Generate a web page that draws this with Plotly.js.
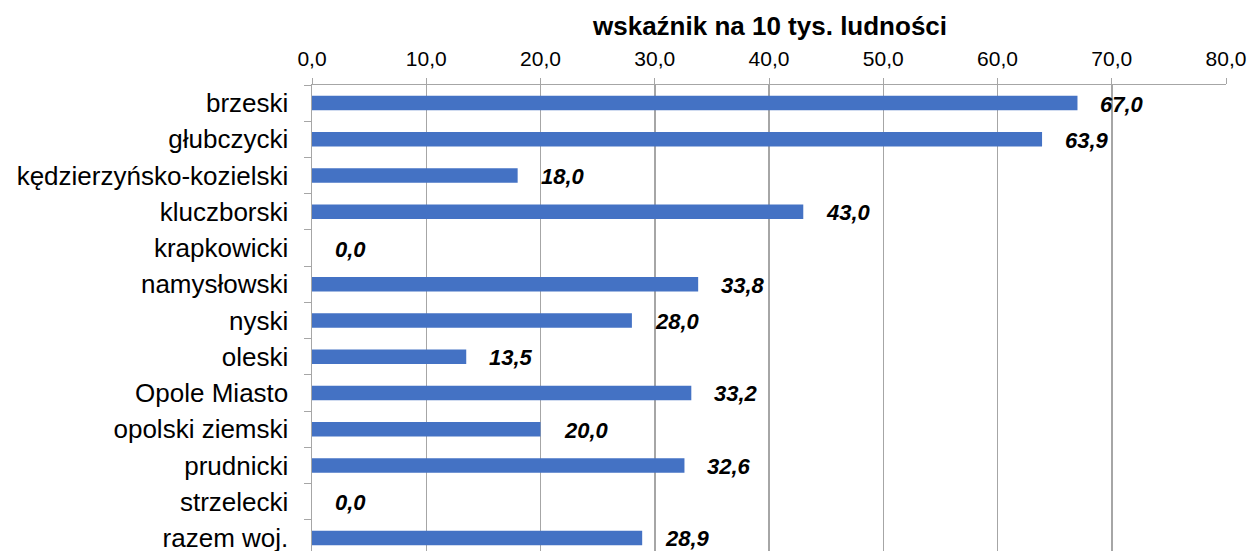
<!DOCTYPE html>
<html>
<head>
<meta charset="utf-8">
<script src="https://cdn.plot.ly/plotly-3.0.1.min.js"></script>
<style>
  html, body { margin: 0; padding: 0; overflow: hidden; background: #fff; }
</style>
</head>
<body>
<div id="chart" style="width:1255px;height:556px;"></div>
<script>
const powiaty = [
  "brzeski", "głubczycki", "kędzierzyńsko-kozielski", "kluczborski",
  "krapkowicki", "namysłowski", "nyski", "oleski", "Opole Miasto",
  "opolski ziemski", "prudnicki", "strzelecki", "razem woj."
];
const wskaznik = [67.0, 63.9, 18.0, 43.0, 0.0, 33.8, 28.0, 13.5, 33.2, 20.0, 32.6, 0.0, 28.9];
const tytul = "wskaźnik na 10 tys. ludności";

const fmt = (v) => v.toFixed(1).replace(".", ",");

const gray = "#A6A6A6";
const font = "Liberation Sans, Arial, sans-serif";

const trace = {
  type: "bar",
  orientation: "h",
  x: wskaznik,
  y: powiaty,
  marker: { color: "#4472C4" },
  hoverinfo: "skip",
};

// etykiety wartości przy słupkach
const labels = wskaznik.map((v, i) => ({
  x: v,
  y: powiaty[i],
  xref: "x",
  yref: "y",
  text: "<b><i>" + fmt(v) + "</i></b>",
  showarrow: false,
  xanchor: "left",
  yanchor: "middle",
  xshift: 21,
  yshift: -1,
  font: { family: font, size: 22, color: "#000" },
}));

labels.push({
  text: "<b>" + tytul + "</b>",
  xref: "paper",
  yref: "paper",
  x: 0.5,
  y: 1 + 59 / 471,
  xanchor: "center",
  yanchor: "middle",
  showarrow: false,
  font: { family: font, size: 26, color: "#000" },
});

Plotly.newPlot("chart", [trace], {
  width: 1255,
  height: 556,
  margin: { l: 312, r: 29, t: 85, b: 0 },
  bargap: 0.6,
  separators: ", ",
  showlegend: false,
  paper_bgcolor: "#fff",
  plot_bgcolor: "#fff",
  font: { family: font, color: "#000" },
  xaxis: {
    side: "top",
    range: [0, 80],
    dtick: 10,
    tick0: 0,
    tickformat: ".1f",
    ticks: "outside",
    ticklen: 6,
    tickcolor: gray,
    showline: true,
    linecolor: gray,
    linewidth: 1.5,
    showgrid: true,
    gridcolor: gray,
    gridwidth: 1.5,
    zeroline: false,
    tickfont: { family: font, size: 21, color: "#000" },
    ticklabelstandoff: 3,
  },
  yaxis: {
    autorange: "reversed",
    ticks: "outside",
    tickson: "boundaries",
    ticklen: 7,
    tickcolor: gray,
    showline: true,
    linecolor: gray,
    linewidth: 1.5,
    showgrid: false,
    tickfont: { family: font, size: 26, color: "#000" },
    ticklabelstandoff: 17,
  },
  annotations: labels,
}, { displayModeBar: false, staticPlot: true });
</script>
</body>
</html>
